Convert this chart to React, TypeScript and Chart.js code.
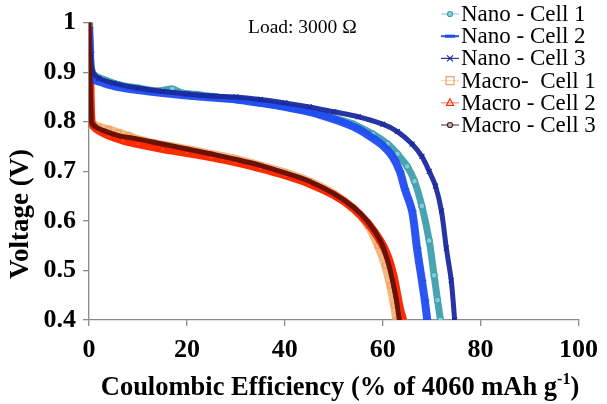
import React, { useEffect, useRef } from 'react';
import { Chart, registerables } from 'chart.js';

Chart.register(...registerables);

// ---- data (Coulombic efficiency %, voltage V) ----
const nano1X = [0, 0.2, 0.5, 1, 3, 6, 10, 14, 17, 19, 22, 26, 30, 35, 40, 45, 50, 54, 58, 61, 63, 65, 66.5, 68, 69.5, 70.5, 71.2, 71.8];
const nano1Y = [1.0, 0.95, 0.905, 0.895, 0.885, 0.875, 0.868, 0.862, 0.866, 0.858, 0.855, 0.85, 0.845, 0.838, 0.83, 0.82, 0.808, 0.795, 0.775, 0.755, 0.735, 0.71, 0.68, 0.63, 0.56, 0.49, 0.44, 0.4];

const nano2X = [0, 0.2, 0.5, 1, 3, 6, 10, 15, 20, 25, 30, 35, 40, 45, 50, 54, 57, 60, 62, 63.5, 64.5, 66, 67, 68, 68.6, 69.1];
const nano2Y = [0.99, 0.94, 0.89, 0.885, 0.878, 0.87, 0.864, 0.858, 0.853, 0.849, 0.845, 0.838, 0.83, 0.82, 0.805, 0.79, 0.773, 0.752, 0.73, 0.7, 0.665, 0.62, 0.545, 0.48, 0.44, 0.4];

const nano3X = [0, 0.3, 0.8, 2, 5, 10, 15, 20, 25, 30, 35, 40, 45, 50, 55, 60, 63, 66, 68, 69.5, 70.8, 72, 73, 74, 74.7];
const nano3Y = [0.98, 0.93, 0.9, 0.888, 0.878, 0.868, 0.861, 0.856, 0.852, 0.85, 0.845, 0.838, 0.83, 0.82, 0.81, 0.795, 0.78, 0.755, 0.73, 0.7, 0.67, 0.62, 0.545, 0.48, 0.4];

const macro1X = [0, 0.2, 0.5, 1, 2, 4, 6, 8, 10, 13, 16, 20, 25, 30, 35, 40, 45, 50, 54, 57, 59, 60.5, 61.5, 62.3, 62.8];
const macro1Y = [1.0, 0.9, 0.8, 0.795, 0.79, 0.785, 0.778, 0.772, 0.765, 0.758, 0.752, 0.745, 0.735, 0.725, 0.712, 0.698, 0.68, 0.655, 0.625, 0.59, 0.55, 0.51, 0.47, 0.43, 0.4];

const macro2X = [0, 0.2, 0.5, 1, 2, 4, 7, 10, 15, 20, 25, 30, 35, 40, 45, 50, 54, 57, 59.5, 61, 62.2, 63, 63.6, 64.2];
const macro2Y = [1.0, 0.92, 0.8, 0.79, 0.782, 0.772, 0.762, 0.755, 0.745, 0.737, 0.728, 0.718, 0.706, 0.692, 0.675, 0.652, 0.625, 0.595, 0.56, 0.53, 0.49, 0.45, 0.42, 0.4];

const macro3X = [0, 0.2, 0.5, 1, 3, 6, 10, 15, 20, 25, 30, 35, 40, 45, 50, 54, 57, 59.5, 61, 62, 62.8, 63.4];
const macro3Y = [1.0, 0.9, 0.8, 0.792, 0.782, 0.772, 0.765, 0.755, 0.745, 0.735, 0.724, 0.712, 0.697, 0.68, 0.655, 0.628, 0.598, 0.56, 0.52, 0.48, 0.44, 0.4];

const seriesNames = ['Nano - Cell 1', 'Nano - Cell 2', 'Nano - Cell 3', 'Macro-  Cell 1', 'Macro - Cell 2', 'Macro - Cell 3'];
const xTicks = [0, 20, 40, 60, 80, 100];
const yTicks = [0.4, 0.5, 0.6, 0.7, 0.8, 0.9, 1];
const loadLabel = 'Load: 3000 \u03A9';
const xTitleMain = 'Coulombic Efficiency (% of 4060 mAh g';
const xTitleSup = '-1';
const xTitleEnd = ')';
const yTitle = 'Voltage (V)';

const SERIF = '"Liberation Serif", "Times New Roman", serif';

const toPts = (xs: number[], ys: number[]) => xs.map((x, i) => ({ x, y: ys[i] }));

type Sty = { color: string; line: string; width: number; point: string; radius: number; fill: string; order: number };
const styles: Sty[] = [
  { color: '#3f9fae', line: 'rgba(63,159,174,0.95)', width: 7, point: 'circle', radius: 3, fill: 'rgba(150,210,220,0.8)', order: 4 },
  { color: '#1f4cf2', line: 'rgba(31,76,242,0.95)', width: 8, point: 'dash', radius: 4.5, fill: '#1f4cf2', order: 3 },
  { color: '#1a2a9c', line: 'rgba(26,42,156,0.95)', width: 5, point: 'crossRot', radius: 3.5, fill: '#1a2a9c', order: 2 },
  { color: '#f0a060', line: 'rgba(240,160,90,0.75)', width: 8, point: 'rect', radius: 3.5, fill: 'rgba(255,255,255,0)', order: 7 },
  { color: '#ff2a00', line: 'rgba(255,42,0,1)', width: 8, point: 'triangle', radius: 3.5, fill: 'rgba(255,90,60,0.6)', order: 5 },
  { color: '#6a1208', line: 'rgba(106,18,8,1)', width: 5, point: 'circle', radius: 1.5, fill: '#6a1208', order: 1 },
];

const seriesData = [
  toPts(nano1X, nano1Y),
  toPts(nano2X, nano2Y),
  toPts(nano3X, nano3Y),
  toPts(macro1X, macro1Y),
  toPts(macro2X, macro2Y),
  toPts(macro3X, macro3Y),
];

function drawMarker(ctx: CanvasRenderingContext2D, kind: string, x: number, y: number, color: string) {
  ctx.save();
  ctx.strokeStyle = color;
  ctx.fillStyle = color;
  ctx.lineWidth = 1.2;
  if (kind === 'circle') {
    ctx.fillStyle = 'rgba(150,210,220,1)';
    ctx.beginPath();
    ctx.arc(x, y, 2.5, 0, Math.PI * 2);
    ctx.fill();
    ctx.stroke();
  } else if (kind === 'dash') {
    ctx.lineWidth = 3;
    ctx.beginPath();
    ctx.moveTo(x - 5, y);
    ctx.lineTo(x + 5, y);
    ctx.stroke();
  } else if (kind === 'crossRot') {
    ctx.beginPath();
    ctx.moveTo(x - 3, y - 3);
    ctx.lineTo(x + 3, y + 3);
    ctx.moveTo(x + 3, y - 3);
    ctx.lineTo(x - 3, y + 3);
    ctx.stroke();
  } else if (kind === 'rect') {
    ctx.strokeRect(x - 4, y - 4, 8, 8);
  } else if (kind === 'triangle') {
    ctx.beginPath();
    ctx.moveTo(x, y - 4);
    ctx.lineTo(x + 3.5, y + 2.5);
    ctx.lineTo(x - 3.5, y + 2.5);
    ctx.closePath();
    ctx.stroke();
  } else {
    ctx.fillStyle = 'rgba(220,170,170,0.9)';
    ctx.beginPath();
    ctx.arc(x, y, 2, 0, Math.PI * 2);
    ctx.fill();
  }
  ctx.restore();
}

const textPlugin = {
  id: 'customText',
  afterDraw(chart: any) {
    const ctx: CanvasRenderingContext2D = chart.ctx;
    const area = chart.chartArea;
    ctx.save();
    ctx.fillStyle = '#000';
    // Load label
    ctx.font = `19.5px ${SERIF}`;
    ctx.textAlign = 'left';
    ctx.textBaseline = 'middle';
    ctx.fillText(loadLabel, 248, 28);

    // Legend
    const lx = 441;
    const ly0 = 14;
    const step = 22.2;
    seriesNames.forEach((name, i) => {
      const y = ly0 + i * step;
      const s = styles[i];
      ctx.save();
      ctx.strokeStyle = i === 5 ? '#555' : s.line;
      ctx.globalAlpha = i === 0 || i === 3 || i === 4 ? 0.55 : 1;
      ctx.lineWidth = i === 1 ? 2 : 1.2;
      ctx.beginPath();
      ctx.moveTo(lx, y);
      ctx.lineTo(lx + 18, y);
      ctx.stroke();
      ctx.restore();
      drawMarker(ctx, s.point, lx + 9, y, s.color);
      ctx.fillStyle = '#000';
      ctx.font = `23px ${SERIF}`;
      ctx.textAlign = 'left';
      ctx.textBaseline = 'middle';
      ctx.fillText(name, lx + 20, y + 1);
    });

    // X title with superscript
    const bold = `bold 26.5px ${SERIF}`;
    const boldSup = `bold 16px ${SERIF}`;
    ctx.font = bold;
    const w1 = ctx.measureText(xTitleMain).width;
    const w3 = ctx.measureText(xTitleEnd).width;
    ctx.font = boldSup;
    const w2 = ctx.measureText(xTitleSup).width;
    const total = w1 + w2 + w3;
    const cx = 340;
    let x = cx - total / 2;
    const ty = 388;
    ctx.textBaseline = 'middle';
    ctx.textAlign = 'left';
    ctx.font = bold;
    ctx.fillText(xTitleMain, x, ty);
    x += w1;
    ctx.font = boldSup;
    ctx.fillText(xTitleSup, x, ty - 8);
    x += w2;
    ctx.font = bold;
    ctx.fillText(xTitleEnd, x, ty);

    // Y title
    ctx.save();
    ctx.translate(21, 214);
    ctx.rotate(-Math.PI / 2);
    ctx.font = `bold 27px ${SERIF}`;
    ctx.textAlign = 'center';
    ctx.textBaseline = 'middle';
    ctx.fillText(yTitle, 0, 0);
    ctx.restore();
    ctx.restore();
  },
};

export default function App() {
  const ref = useRef<HTMLCanvasElement | null>(null);
  useEffect(() => {
    document.body.style.margin = '0';
    if (!ref.current) return;
    const datasets = seriesData.map((d, i) => {
      const s = styles[i];
      return {
        label: seriesNames[i],
        data: d,
        borderColor: s.line,
        borderWidth: s.width,
        pointStyle: s.point,
        pointRadius: s.radius,
        pointBorderColor: s.color,
        pointBackgroundColor: s.fill,
        pointBorderWidth: 1.2,
        showLine: true,
        fill: false,
        tension: 0.3,
        order: s.order,
      };
    });
    const chart = new Chart(ref.current, {
      type: 'scatter',
      data: { datasets: datasets as any },
      options: {
        animation: false,
        responsive: false,
        devicePixelRatio: 1,
        layout: { padding: { top: 22, right: 26, left: 0, bottom: 0 } },
        plugins: { legend: { display: false }, tooltip: { enabled: false } },
        scales: {
          x: {
            type: 'linear',
            min: 0,
            max: 100,
            afterBuildTicks: (scale: any) => {
              scale.ticks = xTicks.map((v) => ({ value: v }));
            },
            afterFit: (scale: any) => {
              scale.height = 84;
            },
            grid: { display: true, drawOnChartArea: false, drawTicks: true, tickLength: 6, color: '#8a8a8a', lineWidth: 1.3 },
            border: { display: true, color: '#8a8a8a', width: 1.3 },
            ticks: {
              color: '#000',
              padding: 9,
              maxRotation: 0,
              font: { family: SERIF, size: 26, weight: 'bold' },
              callback: (v: any) => String(v),
            },
          },
          y: {
            type: 'linear',
            min: 0.4,
            max: 1,
            afterBuildTicks: (scale: any) => {
              scale.ticks = yTicks.map((v) => ({ value: v }));
            },
            afterFit: (scale: any) => {
              scale.width = 89;
            },
            grid: { display: true, drawOnChartArea: false, drawTicks: true, tickLength: 6, color: '#8a8a8a', lineWidth: 1.3 },
            border: { display: true, color: '#8a8a8a', width: 1.3 },
            ticks: {
              color: '#000',
              padding: 7,
              font: { family: SERIF, size: 26, weight: 'bold' },
              callback: (v: any) => {
                const r = Math.round(Number(v) * 10) / 10;
                return r === 1 ? '1' : r.toFixed(1);
              },
            },
          },
        },
      } as any,
      plugins: [textPlugin],
    });
    return () => chart.destroy();
  }, []);
  return (
    <div style={{ width: 607, height: 404, background: '#fff' }}>
      <canvas ref={ref} width={607} height={404} style={{ display: 'block' }} />
    </div>
  );
}
